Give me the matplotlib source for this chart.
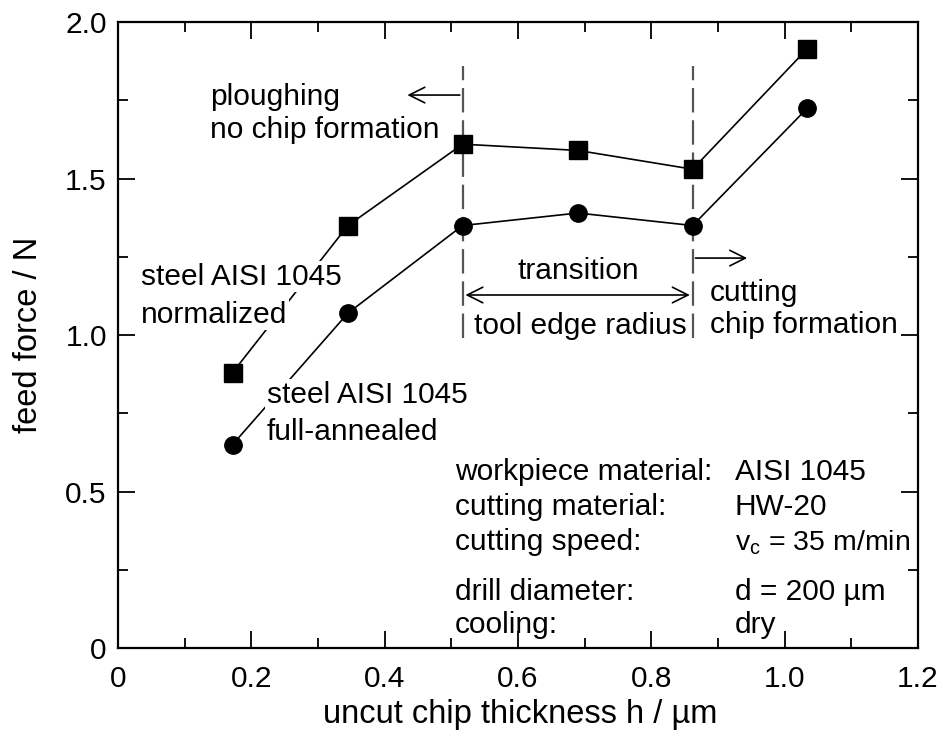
import matplotlib
matplotlib.use("Agg")
import matplotlib.pyplot as plt
from matplotlib.ticker import MultipleLocator

plt.rcParams['font.family'] = ['Liberation Sans', 'DejaVu Sans']

h = [0.172, 0.345, 0.517, 0.690, 0.862, 1.034]
normalized = [0.88, 1.35, 1.61, 1.59, 1.53, 1.915]
annealed = [0.65, 1.07, 1.35, 1.39, 1.35, 1.725]
xticks = [0, 0.2, 0.4, 0.6, 0.8, 1.0, 1.2]
xticklabels = ["0", "0.2", "0.4", "0.6", "0.8", "1.0", "1.2"]
yticks = [0, 0.5, 1.0, 1.5, 2.0]
yticklabels = ["0", "0.5", "1.0", "1.5", "2.0"]
boundaries = [0.517, 0.862]
info_labels = ["workpiece material:", "cutting material:", "cutting speed:", "drill diameter:", "cooling:"]
info_values = ["AISI 1045", "HW-20", r"v$_\mathregular{c}$ = 35 m/min", "d = 200 µm", "dry"]
info_y = [0.537, 0.425, 0.313, 0.153, 0.048]

fig = plt.figure(figsize=(9.43, 7.38), dpi=100)
ax = fig.add_axes([0.125, 0.122, 0.8485, 0.848])
ax.set_xlim(0, 1.2)
ax.set_ylim(0, 2.0)

fs = 21.5

for xb in boundaries:
    ax.plot([xb, xb], [0.99, 1.86], color='#555555', lw=1.6, dashes=(11, 3.5), zorder=1)

ax.plot(h, normalized, color='black', lw=1.2, marker='s', ms=13, zorder=3)
ax.plot(h, annealed, color='black', lw=1.2, marker='o', ms=12.5, zorder=3)

ax.set_xticks(xticks)
ax.set_xticklabels(xticklabels, fontsize=fs)
ax.set_yticks(yticks)
ax.set_yticklabels(yticklabels, fontsize=fs)
ax.xaxis.set_minor_locator(MultipleLocator(0.1))
ax.yaxis.set_minor_locator(MultipleLocator(0.25))
ax.tick_params(which='major', direction='in', length=12, width=1.3, top=True, right=True)
ax.tick_params(which='minor', direction='in', length=7, width=1.3, top=True, right=True)
ax.tick_params(axis='x', which='major', pad=12)
ax.tick_params(axis='y', which='major', pad=8)
for s in ax.spines.values():
    s.set_linewidth(1.6)

ax.set_xlabel("uncut chip thickness h / µm", fontsize=23.5)
ax.set_ylabel("feed force / N", fontsize=23.5)
ax.xaxis.set_label_coords(0.503, -0.082)
ax.yaxis.set_label_coords(-0.092, 0.5)

wb = dict(facecolor='white', edgecolor='none', pad=1)
ax.text(0.138, 1.735, "ploughing", fontsize=fs, ha='left', va='baseline', zorder=4)
ax.text(0.138, 1.63, "no chip formation", fontsize=fs, ha='left', va='baseline', zorder=4)
ax.annotate("", xy=(0.43, 1.767), xytext=(0.517, 1.767),
            arrowprops=dict(arrowstyle='->', color='black', lw=1.2, mutation_scale=28))
ax.annotate("", xy=(0.948, 1.246), xytext=(0.862, 1.246),
            arrowprops=dict(arrowstyle='->', color='black', lw=1.2, mutation_scale=28))
ax.annotate("", xy=(0.517, 1.128), xytext=(0.862, 1.128),
            arrowprops=dict(arrowstyle='<->', color='black', lw=1.2, mutation_scale=28))
ax.text(0.69, 1.18, "transition", fontsize=fs, ha='center', va='baseline', zorder=4)
ax.text(0.694, 1.003, "tool edge radius", fontsize=fs, ha='center', va='baseline', zorder=4,
        bbox=dict(facecolor='white', edgecolor='none', pad=0))
ax.text(0.888, 1.11, "cutting", fontsize=fs, ha='left', va='baseline', zorder=4)
ax.text(0.888, 1.006, "chip formation", fontsize=fs, ha='left', va='baseline', zorder=4)

ax.text(0.035, 1.16, "steel AISI 1045", fontsize=fs, ha='left', va='baseline', zorder=4, bbox=wb)
ax.text(0.035, 1.04, "normalized", fontsize=fs, ha='left', va='baseline', zorder=4, bbox=wb)
ax.text(0.2235, 0.783, "steel AISI 1045", fontsize=fs, ha='left', va='baseline', zorder=4, bbox=wb)
ax.text(0.2235, 0.665, "full-annealed", fontsize=fs, ha='left', va='baseline', zorder=4, bbox=wb)

for lab, val, yy in zip(info_labels, info_values, info_y):
    ax.text(0.505, yy, lab, fontsize=fs, ha='left', va='baseline', zorder=4)
    vfs = 20.5 if 'min' in val else fs
    ax.text(0.925, yy, val, fontsize=vfs, ha='left', va='baseline', zorder=4)

fig.savefig("out.png", dpi=100)
